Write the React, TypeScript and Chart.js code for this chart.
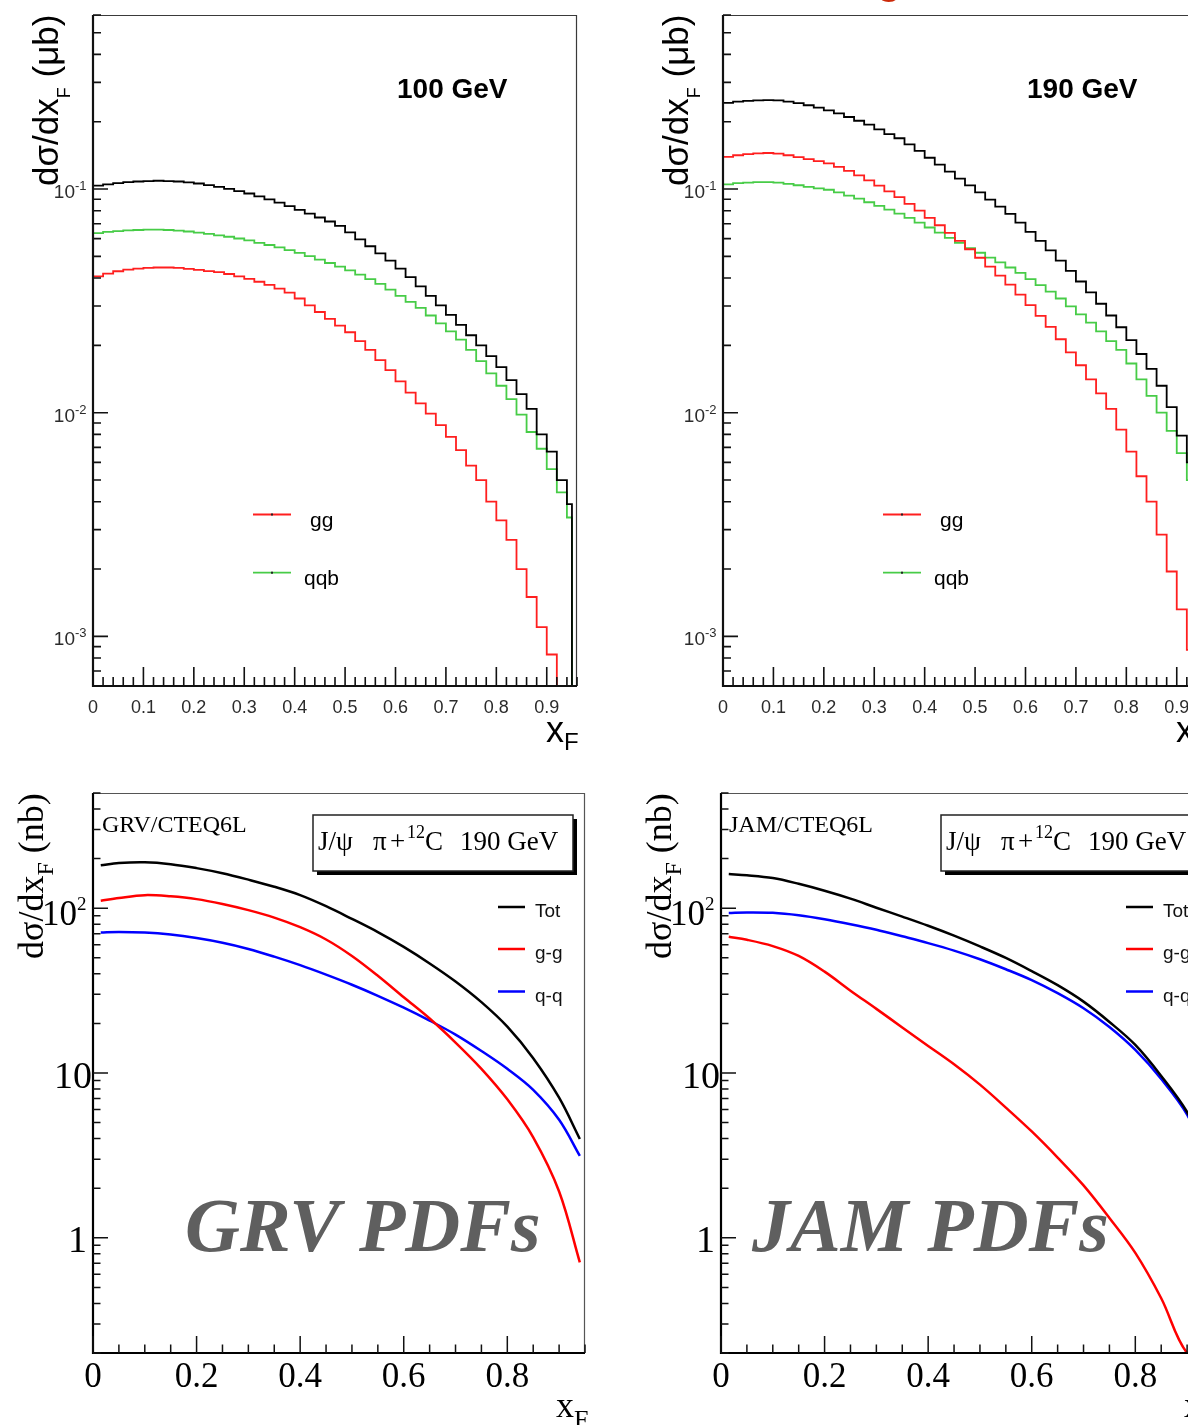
import React, { useEffect, useRef } from 'react';
import { Chart, registerables } from 'chart.js';

Chart.register(...registerables);

const SANS = '"Liberation Sans", Arial, Helvetica, sans-serif';
const SERIF = '"Liberation Serif", "Times New Roman", Times, serif';

// ---------------- Top row: histograms, dσ/dxF (μb) ----------------
const topBinLo = [0, 0.02, 0.04, 0.06, 0.08, 0.1, 0.12, 0.14, 0.16, 0.18, 0.2, 0.22, 0.24, 0.26, 0.28, 0.3, 0.32, 0.34, 0.36, 0.38, 0.4, 0.42, 0.44, 0.46, 0.48, 0.5, 0.52, 0.54, 0.56, 0.58, 0.6, 0.62, 0.64, 0.66, 0.68, 0.7, 0.72, 0.74, 0.76, 0.78, 0.8, 0.82, 0.84, 0.86, 0.88, 0.9, 0.92, 0.94, 0.95];
const topBinEnd = 0.96;
const TOP_X_MAX = 0.96;
const TOP_Y_MIN = 6e-4;
const TOP_Y_MAX = 0.6;
const topXTickValues = [0, 0.1, 0.2, 0.3, 0.4, 0.5, 0.6, 0.7, 0.8, 0.9];
const topXTickLabels = ['0', '0.1', '0.2', '0.3', '0.4', '0.5', '0.6', '0.7', '0.8', '0.9'];
const topYTickValues = [1e-3, 1e-2, 1e-1];
const topYTickExponents = ['-3', '-2', '-1'];
const topLegend = ['gg', 'qqb'];

const tot100 = [0.1035, 0.1050, 0.1062, 0.1074, 0.1081, 0.1086, 0.1089, 0.1086, 0.1081, 0.1072,
  0.1059, 0.1042, 0.1023, 0.1002, 0.0979, 0.0955, 0.0927, 0.0899, 0.0869, 0.0838,
  0.0807, 0.0776, 0.0746, 0.0716, 0.0684, 0.0640, 0.0596, 0.0555, 0.0516, 0.0479,
  0.0441, 0.0404, 0.0367, 0.0333, 0.0302, 0.0274, 0.0247, 0.0222, 0.0200, 0.0179,
  0.0160, 0.0140, 0.0121, 0.0104, 0.0080, 0.0067, 0.0050, 0.0039, 0];
const gg100 = [0.0407, 0.0419, 0.0429, 0.0436, 0.0441, 0.0444, 0.0446, 0.0446, 0.0444, 0.0440,
  0.0435, 0.0430, 0.0425, 0.0417, 0.0407, 0.0397, 0.0385, 0.0373, 0.0359, 0.0344,
  0.0324, 0.0302, 0.0282, 0.0263, 0.0245, 0.0229, 0.0209, 0.0191, 0.0172, 0.0155,
  0.0138, 0.0123, 0.0110, 0.0099, 0.0088, 0.0078, 0.0068, 0.0058, 0.0050, 0.0040,
  0.0033, 0.0027, 0.0020, 0.0015, 0.0011, 0.00083, 0.0005, 0, 0];
const qqb100 = [0.0635, 0.0643, 0.0649, 0.0653, 0.0656, 0.0658, 0.0658, 0.0656, 0.0652, 0.0646,
  0.0638, 0.0630, 0.0621, 0.0612, 0.0601, 0.0589, 0.0575, 0.0562, 0.0548, 0.0533,
  0.0518, 0.0501, 0.0484, 0.0467, 0.0450, 0.0433, 0.0414, 0.0396, 0.0377, 0.0355,
  0.0333, 0.0313, 0.0294, 0.0272, 0.0251, 0.0231, 0.0212, 0.0191, 0.0170, 0.0150,
  0.0132, 0.0115, 0.0098, 0.0082, 0.0069, 0.0056, 0.0044, 0.0034, 0];

const tot190 = [0.243, 0.246, 0.248, 0.249, 0.250, 0.249, 0.246, 0.242, 0.237, 0.231,
  0.225, 0.218, 0.210, 0.202, 0.194, 0.185, 0.176, 0.1687, 0.1585, 0.148,
  0.138, 0.1285, 0.1197, 0.1114, 0.1038, 0.0966, 0.0897, 0.0834, 0.0774, 0.0708,
  0.0644, 0.0586, 0.0532, 0.0479, 0.0431, 0.0386, 0.0345, 0.0307, 0.0272, 0.0241,
  0.0211, 0.0183, 0.0157, 0.0132, 0.0106, 0.0079, 0.0060, 0.0049, 0.0042];
const gg190 = [0.1393, 0.1416, 0.1432, 0.1445, 0.1449, 0.1439, 0.1416, 0.1390, 0.1361, 0.1334,
  0.1303, 0.1256, 0.1205, 0.1151, 0.1094, 0.1035, 0.0977, 0.0920, 0.0859, 0.0800,
  0.0743, 0.0689, 0.0637, 0.0586, 0.0538, 0.0493, 0.0450, 0.0410, 0.0374, 0.0337,
  0.0303, 0.0271, 0.0242, 0.0213, 0.0186, 0.0163, 0.0141, 0.0122, 0.0104, 0.0084,
  0.0067, 0.0052, 0.0040, 0.00285, 0.00195, 0.00132, 0.00087, 0.00063, 0.0005];
const qqb190 = [0.1050, 0.1062, 0.1069, 0.1074, 0.1074, 0.1069, 0.1054, 0.1040, 0.1023, 0.1007,
  0.0993, 0.0966, 0.0935, 0.0906, 0.0873, 0.0841, 0.0809, 0.0776, 0.0743, 0.0708,
  0.0673, 0.0638, 0.0605, 0.0574, 0.0544, 0.0519, 0.0494, 0.0470, 0.0446, 0.0422,
  0.0396, 0.0372, 0.0348, 0.0324, 0.0299, 0.0275, 0.0253, 0.0231, 0.0209, 0.0191,
  0.0166, 0.0141, 0.0119, 0.0100, 0.0083, 0.0066, 0.0050, 0.0041, 0.0036];

// ---------------- Bottom row: curves, dσ/dxF (nb) ----------------
const botX = [0.015, 0.05, 0.1, 0.15, 0.2, 0.25, 0.3, 0.35, 0.4, 0.45, 0.5, 0.55, 0.6, 0.65, 0.7, 0.75, 0.8, 0.85, 0.9, 0.94];
const grvTot = [182, 188, 190, 185, 175, 163, 149, 135, 120, 102.8, 86.1, 71.6, 58.2, 46.2, 35.9, 26.9, 19.1, 12.3, 7.08, 3.98];
const grvGG = [110.8, 115.3, 120, 118, 113.5, 106, 97.3, 87.7, 76.7, 64.6, 51.3, 38.9, 28.8, 21.4, 15.3, 10.6, 6.92, 4.07, 1.91, 0.71];
const grvQQ = [71.2, 71.8, 71.2, 69.2, 65.9, 61.7, 56.6, 50.8, 45.1, 39.5, 34.3, 29.4, 24.9, 20.8, 17.1, 13.6, 10.6, 7.9, 5.2, 3.14];
const jamTot = [161, 158.5, 152.4, 140.6, 127.6, 114.3, 100.7, 88.9, 78.2, 68.1, 58.6, 49.9, 41.5, 34.1, 27.1, 20.4, 14.8, 9.6, 5.8, 3.2];
const jamGG = [67.0, 64.3, 58.9, 51.3, 41.2, 31.6, 24.5, 18.9, 14.6, 11.3, 8.5, 6.17, 4.42, 3.07, 2.08, 1.32, 0.81, 0.43, 0.2, 0.19];
const jamQQ = [93.6, 94.3, 93.8, 90.6, 85.7, 80.0, 74.0, 67.5, 61.4, 55.3, 49.0, 42.6, 36.6, 30.5, 24.7, 19.0, 13.8, 9.2, 5.6, 3.0];
const BOT_X_MAX = 0.95;
const BOT_Y_MIN = 0.2;
const BOT_Y_MAX = 500;
const botXTickValues = [0, 0.2, 0.4, 0.6, 0.8];
const botXTickLabels = ['0', '0.2', '0.4', '0.6', '0.8'];
const botLegend = ['Tot', 'g-g', 'q-q'];

const C_BLACK = '#000000';
const C_RED_TOP = '#ff1f1f';
const C_GREEN_TOP = '#47cc47';
const C_RED = '#ff0000';
const C_BLUE = '#0000ff';

function histData(vals: number[]) {
  const pts = vals.map((v, i) => ({ x: topBinLo[i], y: v > 0 ? v : TOP_Y_MIN }));
  pts.push({ x: topBinEnd, y: pts[pts.length - 1].y });
  return pts;
}

function curveData(vals: number[]) {
  return vals.map((v, i) => ({ x: botX[i], y: v }));
}

function rotatedText(ctx: any, x: number, yBottom: number, parts: { t: string; f: string; dy: number }[]) {
  ctx.save();
  ctx.translate(x, yBottom);
  ctx.rotate(-Math.PI / 2);
  ctx.textAlign = 'left';
  ctx.textBaseline = 'alphabetic';
  let cx = 0;
  for (const p of parts) {
    ctx.font = p.f;
    ctx.fillText(p.t, cx, p.dy);
    cx += ctx.measureText(p.t).width;
  }
  ctx.restore();
}

function topDecor(title: string, isRight: boolean) {
  return {
    id: 'topDecor',
    afterDraw(chart: any) {
      const { ctx, chartArea: a } = chart;
      const xs = chart.scales.x;
      const ys = chart.scales.y;
      ctx.save();
      // frame
      ctx.strokeStyle = '#3a3a3a';
      ctx.lineWidth = 1.2;
      ctx.beginPath();
      ctx.moveTo(a.left, a.top + 0.5);
      ctx.lineTo(a.right - 0.5, a.top + 0.5);
      ctx.lineTo(a.right - 0.5, a.bottom);
      ctx.stroke();
      ctx.strokeStyle = '#111';
      ctx.lineWidth = 2.2;
      ctx.beginPath();
      ctx.moveTo(a.left, a.top);
      ctx.lineTo(a.left, a.bottom);
      ctx.lineTo(a.right, a.bottom);
      ctx.stroke();
      // ticks
      ctx.lineWidth = 1.6;
      ctx.beginPath();
      for (let k = 0; k * 0.02 <= TOP_X_MAX + 1e-9; k++) {
        const px = xs.getPixelForValue(k * 0.02);
        const len = k % 5 === 0 ? 19 : 9;
        ctx.moveTo(px, a.bottom);
        ctx.lineTo(px, a.bottom - len);
      }
      for (let e = -4; e <= 0; e++) {
        for (let m = 1; m <= 9; m++) {
          const v = m * Math.pow(10, e);
          if (v < ys.min * 0.999 || v > ys.max * 1.001) continue;
          const py = ys.getPixelForValue(v);
          ctx.moveTo(a.left, py);
          ctx.lineTo(a.left + (m === 1 ? 15 : 8), py);
        }
      }
      ctx.stroke();
      // tick labels
      ctx.fillStyle = '#2b2b2b';
      ctx.font = `18px ${SANS}`;
      ctx.textAlign = 'center';
      ctx.textBaseline = 'middle';
      topXTickValues.forEach((v, i) => ctx.fillText(topXTickLabels[i], xs.getPixelForValue(v), a.bottom + 22));
      ctx.textBaseline = 'alphabetic';
      topYTickValues.forEach((v, i) => {
        const py = ys.getPixelForValue(v);
        ctx.textAlign = 'right';
        ctx.font = `19px ${SANS}`;
        ctx.fillText('10', a.left - 18, py + 9);
        ctx.textAlign = 'left';
        ctx.font = `13px ${SANS}`;
        ctx.fillText(topYTickExponents[i], a.left - 18, py + 1);
      });
      // title
      ctx.fillStyle = '#000';
      ctx.font = `bold 28px ${SANS}`;
      ctx.textAlign = 'left';
      ctx.fillText(title, a.left + 304, a.top + 83);
      // legend
      const legY = [a.top + 499.5, a.top + 557.7];
      const legC = [C_RED_TOP, C_GREEN_TOP];
      const legTx = [a.left + 217, a.left + 211];
      legY.forEach((y, i) => {
        ctx.strokeStyle = legC[i];
        ctx.lineWidth = 1.8;
        ctx.beginPath();
        ctx.moveTo(a.left + 160, y);
        ctx.lineTo(a.left + 198, y);
        ctx.stroke();
        ctx.fillStyle = '#222';
        ctx.fillRect(a.left + 178, y - 1, 2, 2);
        ctx.fillStyle = '#000';
        ctx.font = `21px ${SANS}`;
        ctx.fillText(topLegend[i], legTx[i], y + 12.5);
      });
      // x title
      ctx.font = `36px ${SANS}`;
      ctx.fillText('x', a.right - 31, a.bottom + 56);
      const xw = ctx.measureText('x').width;
      ctx.font = `24px ${SANS}`;
      ctx.fillText('F', a.right - 31 + xw, a.bottom + 64);
      // y title
      rotatedText(ctx, a.left - 35, a.top + 171, [
        { t: 'dσ/dx', f: `35px ${SANS}`, dy: 0 },
        { t: 'F', f: `18px ${SANS}`, dy: 12 },
        { t: ' (μb)', f: `35px ${SANS}`, dy: 0 },
      ]);
      if (isRight) {
        ctx.fillStyle = '#cc2a0a';
        ctx.font = `bold 40px ${SANS}`;
        ctx.fillText('g', 247, -6);
      }
      ctx.restore();
    },
  };
}

function botDecor(label: string, labelDx: number, big: string, bigDx: number) {
  return {
    id: 'botDecor',
    beforeDatasetsDraw(chart: any) {
      const { ctx, chartArea: a } = chart;
      ctx.save();
      ctx.fillStyle = '#5f5f5f';
      ctx.font = `italic bold 76px ${SERIF}`;
      ctx.textAlign = 'left';
      ctx.textBaseline = 'alphabetic';
      ctx.fillText(big, a.left + bigDx, a.top + 458);
      ctx.restore();
    },
    afterDraw(chart: any) {
      const { ctx, chartArea: a } = chart;
      const xs = chart.scales.x;
      const ys = chart.scales.y;
      ctx.save();
      // frame
      ctx.strokeStyle = '#555';
      ctx.lineWidth = 1.2;
      ctx.beginPath();
      ctx.moveTo(a.left, a.top + 0.5);
      ctx.lineTo(a.right - 0.5, a.top + 0.5);
      ctx.lineTo(a.right - 0.5, a.bottom);
      ctx.stroke();
      ctx.strokeStyle = '#000';
      ctx.lineWidth = 2.2;
      ctx.beginPath();
      ctx.moveTo(a.left, a.top);
      ctx.lineTo(a.left, a.bottom);
      ctx.lineTo(a.right, a.bottom);
      ctx.stroke();
      // ticks
      ctx.lineWidth = 1.5;
      ctx.strokeStyle = '#111';
      ctx.beginPath();
      for (let k = 0; k * 0.05 <= BOT_X_MAX + 1e-9; k++) {
        const px = xs.getPixelForValue(k * 0.05);
        const len = k % 4 === 0 ? 17 : 8.5;
        ctx.moveTo(px, a.bottom);
        ctx.lineTo(px, a.bottom - len);
      }
      for (let e = -1; e <= 2; e++) {
        for (let m = 1; m <= 9; m++) {
          const v = m * Math.pow(10, e);
          if (v < ys.min * 0.999 || v > ys.max * 1.001) continue;
          const py = ys.getPixelForValue(v);
          ctx.moveTo(a.left, py);
          ctx.lineTo(a.left + (m === 1 ? 15 : 7.5), py);
        }
      }
      ctx.stroke();
      // x labels
      ctx.fillStyle = '#000';
      ctx.font = `35px ${SERIF}`;
      ctx.textAlign = 'center';
      ctx.textBaseline = 'alphabetic';
      botXTickValues.forEach((v, i) => ctx.fillText(botXTickLabels[i], xs.getPixelForValue(v), a.bottom + 34));
      // y labels
      ctx.textAlign = 'right';
      ctx.font = `38px ${SERIF}`;
      let py = ys.getPixelForValue(1);
      ctx.fillText('1', a.left - 6, py + 14);
      py = ys.getPixelForValue(10);
      ctx.fillText('10', a.left - 1, py + 15);
      py = ys.getPixelForValue(100);
      ctx.font = `35px ${SERIF}`;
      ctx.fillText('10', a.left - 16, py + 17);
      ctx.textAlign = 'left';
      ctx.font = `19px ${SERIF}`;
      ctx.fillText('2', a.left - 16, py + 2);
      // y title
      rotatedText(ctx, a.left - 50, a.top + 166, [
        { t: 'dσ/dx', f: `36px ${SERIF}`, dy: 0 },
        { t: 'F', f: `24px ${SERIF}`, dy: 10 },
        { t: ' (nb)', f: `36px ${SERIF}`, dy: 0 },
      ]);
      // x title
      ctx.textAlign = 'left';
      ctx.font = `36px ${SERIF}`;
      ctx.fillText('x', a.left + 463, a.bottom + 64);
      const xw = ctx.measureText('x').width;
      ctx.font = `26px ${SERIF}`;
      ctx.fillText('F', a.left + 463 + xw, a.bottom + 75);
      // pdf label
      ctx.font = `24px ${SERIF}`;
      ctx.fillText(label, a.left + labelDx, a.top + 39);
      // boxed caption with shadow
      const bx = a.left + 220, by = a.top + 22, bw = 260, bh = 56;
      ctx.fillStyle = '#000';
      ctx.fillRect(bx + 4, by + 4, bw, bh);
      ctx.fillStyle = '#fff';
      ctx.fillRect(bx, by, bw, bh);
      ctx.strokeStyle = '#222';
      ctx.lineWidth = 1.5;
      ctx.strokeRect(bx, by, bw, bh);
      ctx.fillStyle = '#000';
      ctx.font = `27px ${SERIF}`;
      const base = a.top + 57;
      ctx.fillText('J/ψ', a.left + 225, base);
      ctx.fillText('π', a.left + 280, base);
      ctx.fillText('+', a.left + 297, base);
      ctx.fillText('C', a.left + 332, base);
      ctx.fillText('190 GeV', a.left + 367, base);
      ctx.font = `18px ${SERIF}`;
      ctx.fillText('12', a.left + 314, a.top + 45);
      // legend entries
      const legY = [a.top + 114, a.top + 156, a.top + 198.5];
      const legC = [C_BLACK, C_RED, C_BLUE];
      legY.forEach((y, i) => {
        ctx.strokeStyle = legC[i];
        ctx.lineWidth = 2.5;
        ctx.beginPath();
        ctx.moveTo(a.left + 405, y);
        ctx.lineTo(a.left + 432, y);
        ctx.stroke();
        ctx.fillStyle = '#111';
        ctx.font = `19px ${SANS}`;
        ctx.fillText(botLegend[i], a.left + 442, y + 10);
      });
      ctx.restore();
    },
  };
}

function topConfig(tot: number[], gg: number[], qqb: number[], title: string, isRight: boolean) {
  const ds = (vals: number[], color: string) => ({
    data: histData(vals),
    borderColor: color,
    borderWidth: 1.8,
    stepped: 'before',
    pointRadius: 0,
    fill: false,
  });
  return {
    type: 'line',
    data: { datasets: [ds(tot, C_BLACK), ds(gg, C_RED_TOP), ds(qqb, C_GREEN_TOP)] },
    options: {
      animation: false,
      responsive: false,
      maintainAspectRatio: false,
      events: [],
      layout: { padding: { left: 93, top: 15, right: 23, bottom: 74 } },
      plugins: { legend: { display: false }, tooltip: { enabled: false }, title: { display: false } },
      scales: {
        x: { type: 'linear', min: 0, max: TOP_X_MAX, display: false },
        y: { type: 'logarithmic', min: TOP_Y_MIN, max: TOP_Y_MAX, display: false },
      },
    },
    plugins: [topDecor(title, isRight)],
  };
}

function botConfig(tot: number[], gg: number[], qq: number[], label: string, labelDx: number, big: string, bigDx: number) {
  const ds = (vals: number[], color: string) => ({
    data: curveData(vals),
    borderColor: color,
    borderWidth: 2.5,
    tension: 0.35,
    pointRadius: 0,
    fill: false,
  });
  return {
    type: 'line',
    data: { datasets: [ds(tot, C_BLACK), ds(gg, C_RED), ds(qq, C_BLUE)] },
    options: {
      animation: false,
      responsive: false,
      maintainAspectRatio: false,
      events: [],
      layout: { padding: { left: 93, top: 33, right: 15, bottom: 72 } },
      plugins: { legend: { display: false }, tooltip: { enabled: false }, title: { display: false } },
      scales: {
        x: { type: 'linear', min: 0, max: BOT_X_MAX, display: false },
        y: { type: 'logarithmic', min: BOT_Y_MIN, max: BOT_Y_MAX, display: false },
      },
    },
    plugins: [botDecor(label, labelDx, big, bigDx)],
  };
}

function Panel({ make, left, top, width, height }: any) {
  const ref = useRef<HTMLCanvasElement>(null);
  useEffect(() => {
    const chart = new Chart(ref.current as HTMLCanvasElement, make() as any);
    return () => chart.destroy();
  }, []);
  return (
    <canvas
      ref={ref}
      width={width}
      height={height}
      style={{ position: 'absolute', left, top, width, height }}
    />
  );
}

export default function App() {
  return (
    <div style={{ position: 'fixed', left: 0, top: 0, width: 1188, height: 1425, overflow: 'hidden', background: '#fff' }}>
      <Panel left={0} top={0} width={600} height={760} make={() => topConfig(tot100, gg100, qqb100, '100 GeV', false)} />
      <Panel left={630} top={0} width={600} height={760} make={() => topConfig(tot190, gg190, qqb190, '190 GeV', true)} />
      <Panel left={0} top={760} width={600} height={665} make={() => botConfig(grvTot, grvGG, grvQQ, 'GRV/CTEQ6L', 9, 'GRV PDFs', 92)} />
      <Panel left={628} top={760} width={600} height={665} make={() => botConfig(jamTot, jamGG, jamQQ, 'JAM/CTEQ6L', 8, 'JAM PDFs', 31)} />
    </div>
  );
}
